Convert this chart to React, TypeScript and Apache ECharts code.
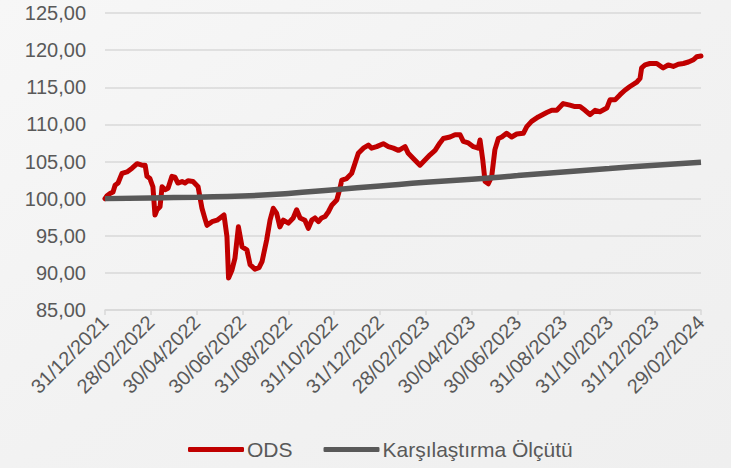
import React, { useEffect, useRef } from "react";
import * as echarts from "echarts";

// x positions are months since 31/12/2021 (ticks every 2 months)
const xTickLabels = [
  "31/12/2021", "28/02/2022", "30/04/2022", "30/06/2022", "31/08/2022", "31/10/2022", "31/12/2022",
  "28/02/2023", "30/04/2023", "30/06/2023", "31/08/2023", "31/10/2023", "31/12/2023", "29/02/2024",
];

const odsX = [
  0, 0.09, 0.22, 0.35, 0.44, 0.57, 0.74, 0.96, 1.18, 1.4, 1.61, 1.75, 1.83, 1.96, 2.09, 2.18, 2.27, 2.4,
  2.49, 2.62, 2.75, 2.92, 3.05, 3.18, 3.36, 3.49, 3.62, 3.84, 4.06, 4.23, 4.36, 4.45, 4.67, 4.89, 5.19,
  5.32, 5.39, 5.54, 5.67, 5.82, 5.98, 6.19, 6.33, 6.54, 6.72, 6.85, 7.05, 7.2, 7.34, 7.49, 7.63, 7.78,
  8.0, 8.21, 8.36, 8.51, 8.72, 8.87, 9.02, 9.16, 9.31, 9.45, 9.6, 9.74, 9.89, 10.11, 10.25, 10.33, 10.54,
  10.76, 10.91, 11.05, 11.27, 11.49, 11.63, 11.85, 12.14, 12.36, 12.58, 12.8, 12.87, 13.09, 13.23, 13.45,
  13.74, 13.96, 14.18, 14.4, 14.61, 14.76, 15.05, 15.27, 15.49, 15.63, 15.85, 16.07, 16.28, 16.36, 16.48,
  16.58, 16.72, 16.87, 17.01, 17.16, 17.31, 17.52, 17.74, 17.96, 18.25, 18.4, 18.61, 18.9, 19.27, 19.49,
  19.71, 19.99, 20.28, 20.5, 20.72, 20.94, 21.16, 21.38, 21.59, 21.89, 22.03, 22.25, 22.47, 22.68, 22.9,
  23.2, 23.34, 23.41, 23.56, 23.77, 24.07, 24.35, 24.57, 24.79, 25.01, 25.23, 25.45, 25.67, 25.81, 26.0,
];
const odsValues = [
  100.0, 100.4, 100.7, 100.9, 101.8, 102.1, 103.4, 103.6, 104.1, 104.7, 104.5, 104.5, 103.0, 102.7, 101.6,
  97.8, 98.5, 98.9, 101.6, 101.2, 101.4, 103.0, 102.9, 102.1, 102.3, 102.1, 102.4, 102.3, 101.6, 98.7,
  97.3, 96.4, 96.9, 97.1, 97.8, 94.9, 89.3, 90.4, 92.0, 96.2, 93.5, 93.1, 91.1, 90.5, 90.7, 91.5, 94.4,
  97.1, 98.7, 98.0, 96.2, 97.1, 96.7, 97.4, 98.5, 97.4, 97.1, 96.0, 97.1, 97.4, 96.9, 97.4, 97.6, 98.2,
  99.1, 99.8, 101.4, 102.5, 102.7, 103.4, 104.8, 106.1, 106.8, 107.2, 106.8, 107.0, 107.4, 107.0, 106.8,
  106.5, 106.6, 107.0, 106.1, 105.4, 104.5, 105.2, 105.9, 106.5, 107.5, 108.1, 108.3, 108.6, 108.6, 107.7,
  107.5, 107.0, 106.8, 107.9, 105.2, 102.3, 102.0, 103.0, 106.6, 108.1, 108.3, 108.8, 108.3, 108.7, 108.8,
  109.7, 110.4, 111.0, 111.6, 111.9, 111.9, 112.8, 112.6, 112.4, 112.4, 111.9, 111.3, 111.9, 111.7, 112.2,
  113.3, 113.3, 114.0, 114.6, 115.1, 115.7, 116.2, 117.6, 118.0, 118.2, 118.2, 117.6, 118.0, 117.8, 118.1,
  118.2, 118.4, 118.7, 119.1, 119.2,
];

const benchX = [0, 2, 4, 6, 8, 10, 12, 14, 16, 18, 20, 22, 24, 26];
const benchValues = [100.0, 100.1, 100.2, 100.35, 100.7, 101.2, 101.7, 102.2, 102.6, 103.1, 103.6, 104.05, 104.5, 104.9];

const seriesNames = ["ODS", "Karşılaştırma Ölçütü"];
const seriesColors = ["#C00000", "#595959"];

export default function App() {
  const ref = useRef<HTMLDivElement>(null);
  useEffect(() => {
    if (!ref.current) return;
    const chart = echarts.init(ref.current, undefined, { renderer: "svg" });
    const font = "Arial, 'Liberation Sans', sans-serif";
    chart.setOption({
      animation: false,
      backgroundColor: {
        type: "linear", x: 0, y: 0, x2: 1, y2: 1,
        colorStops: [
          { offset: 0, color: "#f7f7f7" },
          { offset: 0.5, color: "#f2f2f2" },
          { offset: 1, color: "#efefef" },
        ],
      },
      grid: { left: 105, right: 30, top: 13, bottom: 158 },
      legend: {
        bottom: 3,
        left: 183,
        icon: "roundRect",
        itemWidth: 56,
        itemHeight: 5,
        itemGap: 31,
        textStyle: { fontSize: 21, color: "#595959", fontFamily: font, padding: [0, 0, 0, -2] },
        data: seriesNames,
      },
      xAxis: {
        type: "value",
        min: 0,
        max: 26,
        interval: 2,
        axisLine: { show: true, lineStyle: { color: "#d9d9d9", width: 1.5 } },
        axisTick: { show: true, length: 5, lineStyle: { color: "#d9d9d9", width: 1.5 } },
        splitLine: { show: false },
        axisLabel: {
          rotate: 45,
          fontSize: 20,
          color: "#595959",
          fontFamily: font,
          margin: 9,
          formatter: (v: number) => xTickLabels[Math.round(v / 2)] ?? "",
        },
      },
      yAxis: {
        type: "value",
        min: 85,
        max: 125,
        interval: 5,
        axisLine: { show: false },
        axisTick: { show: false },
        splitLine: { lineStyle: { color: "#d9d9d9", width: 1.5 } },
        axisLabel: {
          fontSize: 20,
          color: "#595959",
          fontFamily: font,
          margin: 19,
          formatter: (v: number) => v.toFixed(2).replace(".", ","),
        },
      },
      series: [
        {
          name: seriesNames[1],
          type: "line",
          data: benchX.map((x, i) => [x, benchValues[i]]),
          smooth: true,
          showSymbol: false,
          symbol: "none",
          lineStyle: { color: seriesColors[1], width: 5.5 },
          itemStyle: { color: seriesColors[1] },
          z: 2,
        },
        {
          name: seriesNames[0],
          type: "line",
          data: odsX.map((x, i) => [x, odsValues[i]]),
          showSymbol: false,
          symbol: "none",
          lineStyle: { color: seriesColors[0], width: 5, join: "round", cap: "round" },
          itemStyle: { color: seriesColors[0] },
          z: 1,
        },
      ],
    });
    return () => chart.dispose();
  }, []);
  return <div ref={ref} style={{ position: "absolute", left: 0, top: 0, width: 731, height: 468 }} />;
}
